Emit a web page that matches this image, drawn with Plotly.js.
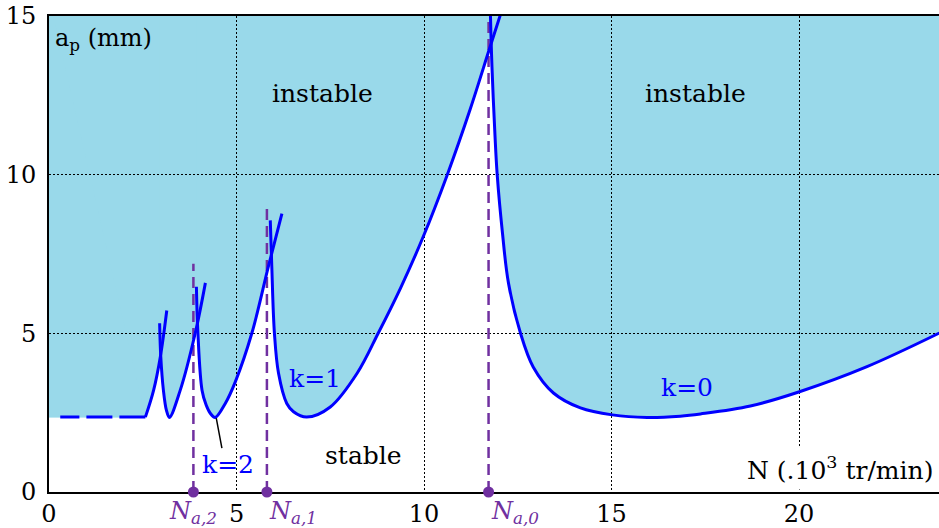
<!DOCTYPE html>
<html>
<head>
<meta charset="utf-8">
<script src="https://cdn.plot.ly/plotly-3.0.1.min.js"></script>
<style>html,body{margin:0;padding:0;background:#fff;}</style>
</head>
<body>
<div id="chart" style="width:939px;height:528px;"></div>
<script>
// ---- data (N in 10^3 tr/min, ap in mm) ----
const flatN  = [0.30, 2.57];
const flatAp = [2.36, 2.36];

const lobe4N  = [2.57, 2.79, 2.97, 3.14];
const lobe4Ap = [2.36, 3.21, 4.27, 5.72];

const lobe3N  = [2.95, 2.98, 3.05, 3.13, 3.21, 3.50, 3.90, 4.17];
const lobe3Ap = [5.32, 4.27, 3.21, 2.58, 2.35, 3.21, 5.01, 6.59];

const lobe2N  = [3.93, 3.97, 4.08, 4.19, 4.30, 4.43, 4.70, 4.97, 5.41, 5.85, 6.21];
const lobe2Ap = [6.47, 5.01, 3.21, 2.74, 2.48, 2.35, 2.79, 3.48, 5.01, 7.11, 8.77];

const lobe1N  = [5.90, 5.94, 6.01, 6.12, 6.34, 6.52, 6.87, 7.50, 8.22, 8.78, 9.37, 9.98, 10.62, 11.23, 11.74, 12.03];
const lobe1Ap = [8.56, 7.11, 5.01, 3.74, 2.79, 2.53, 2.36, 2.68, 3.75, 5.01, 6.42, 8.05, 10.00, 12.06, 13.95, 15.02];

const lobe0N  = [11.77, 11.81, 11.89, 11.95, 12.09, 12.25, 12.57, 12.91, 13.45, 14.17, 15.02, 15.95, 16.83, 17.37, 18.70, 20.01, 21.81, 23.74];
const lobe0Ap = [15.03, 13.42, 11.26, 10.00, 8.17, 6.59, 5.01, 3.94, 3.12, 2.65, 2.43, 2.35, 2.39, 2.46, 2.71, 3.16, 3.95, 5.01];

const naN    = [3.85, 5.81, 11.72];
const naTop  = [7.19, 9.11, 15.0];
const naBase = [0, 0, 0];
const naText = ['N<sub>a,2</sub>', 'N<sub>a,1</sub>', 'N<sub>a,0</sub>'];

const leaderN  = [4.46, 4.61];
const leaderAp = [2.33, 1.38];

const regionText = ['instable', 'instable', 'stable'];
const regionN    = [7.29, 17.25, 8.38];
const regionAp   = [12.56, 12.56, 1.16];

const lobeText    = ['k=0', 'k=1', 'k=2'];
const lobeLabelN  = [17.00, 7.10, 4.78];
const lobeLabelAp = [3.28, 3.59, 0.88];

const xTicks = [0, 5, 10, 15, 20];
const yTicks = [0, 5, 10, 15];

// ---- styles ----
const FILL = '#99D9EA', BLUE = '#0000FF', PURPLE = '#7030A0';
const FONT = 'DejaVu Serif';
const xRange = [0, 23.73], yRange = [0, 15], topY = 15.6;

const traces = [];
// unstable region fill (bottom subplot xy, drawn under grid of x2y2)
function addFill(xs, ys, leftX, shape) {
  traces.push({type:'scatter', x:[leftX, xs[xs.length-1]], y:[topY, topY], mode:'lines',
    line:{width:1, color:FILL}, xaxis:'x', yaxis:'y', hoverinfo:'skip', showlegend:false});
  traces.push({type:'scatter', x:xs, y:ys, mode:'lines',
    line:{width:1, color:FILL, shape:shape}, fill:'tonexty', fillcolor:FILL,
    xaxis:'x', yaxis:'y', hoverinfo:'skip', showlegend:false});
}
addFill([xRange[0], flatN[1]], flatAp, xRange[0], 'linear');
addFill(lobe4N, lobe4Ap, xRange[0], 'spline');
addFill(lobe3N, lobe3Ap, lobe3N[0], 'spline');
addFill(lobe2N, lobe2Ap, lobe2N[0], 'spline');
addFill(lobe1N, lobe1Ap, lobe1N[0], 'spline');
addFill(lobe0N, lobe0Ap, lobe0N[0], 'spline');

// purple dashed verticals
const px = [], py = [];
naN.forEach((n, i) => { px.push(n, n, null); py.push(naBase[i], naTop[i], null); });
traces.push({type:'scatter', x:px, y:py, mode:'lines', connectgaps:false,
  line:{color:PURPLE, width:2.5, dash:'11px,6px'}, xaxis:'x2', yaxis:'y2', hoverinfo:'skip', showlegend:false});

// dashed flat part (drawn right-to-left so the pattern starts at the lobe)
traces.push({type:'scatter', x:flatN.slice().reverse(), y:flatAp.slice().reverse(), mode:'lines',
  line:{color:BLUE, width:3, dash:'26px,7px'}, xaxis:'x2', yaxis:'y2', hoverinfo:'skip', showlegend:false});

[[lobe4N, lobe4Ap], [lobe3N, lobe3Ap], [lobe2N, lobe2Ap], [lobe1N, lobe1Ap], [lobe0N, lobe0Ap]].forEach(([xs, ys]) => {
  traces.push({type:'scatter', x:xs, y:ys, mode:'lines',
    line:{color:BLUE, width:3, shape:'spline'}, xaxis:'x2', yaxis:'y2', hoverinfo:'skip', showlegend:false});
});

// leader line for k=2
traces.push({type:'scatter', x:leaderN, y:leaderAp, mode:'lines',
  line:{color:'#000', width:1.5}, xaxis:'x2', yaxis:'y2', hoverinfo:'skip', showlegend:false});

// purple dots on the axis
traces.push({type:'scatter', x:naN, y:naBase, mode:'markers', cliponaxis:false,
  marker:{color:PURPLE, size:11}, xaxis:'x2', yaxis:'y2', hoverinfo:'skip', showlegend:false});

const annotations = [];
regionText.forEach((t, i) => annotations.push({xref:'x2', yref:'y2', x:regionN[i], y:regionAp[i], text:t,
  showarrow:false, font:{family:FONT, size:25, color:'#000'}}));
lobeText.forEach((t, i) => annotations.push({xref:'x2', yref:'y2', x:lobeLabelN[i], y:lobeLabelAp[i], text:t,
  showarrow:false, font:{family:FONT, size:25, color:BLUE}}));
const naAnchor = ['center', 'left', 'left'];
naText.forEach((t, i) => annotations.push({xref:'x2', yref:'y2', x:naN[i], y:0, text:'<i>' + t + '</i>',
  showarrow:false, xanchor:naAnchor[i], yanchor:'middle', yshift:-20, font:{family:FONT, size:24, color:PURPLE}}));
annotations.push({xref:'paper', yref:'paper', x:0, y:1, xanchor:'left', yanchor:'top', xshift:4, yshift:-6,
  text:'a<sub>p</sub> (mm)', showarrow:false, font:{family:FONT, size:24, color:'#000'}});
annotations.push({xref:'paper', yref:'paper', x:1, y:0, xanchor:'right', yanchor:'bottom', xshift:-1, yshift:2,
  text:'N (.10<sup>3</sup> tr/min)', showarrow:false, bgcolor:'#fff', borderpad:4,
  font:{family:FONT, size:25, color:'#000'}});

const axisCommon = {
  showgrid:true, gridcolor:'#000', gridwidth:1, griddash:'2px,2px', zeroline:false,
  showline:true, linecolor:'#000', linewidth:2, ticks:'', layer:'below traces',
  tickfont:{family:FONT, size:24, color:'#000'}, fixedrange:true
};

const layout = {
  width:939, height:528,
  margin:{l:49, r:0, t:16, b:36, pad:0},
  paper_bgcolor:'#fff', plot_bgcolor:'rgba(0,0,0,0)',
  showlegend:false,
  xaxis:{range:xRange, visible:false, fixedrange:true, domain:[0,1]},
  yaxis:{range:yRange, visible:false, fixedrange:true, domain:[0,1]},
  xaxis2:Object.assign({}, axisCommon, {range:xRange, anchor:'y2', domain:[0,1],
    tickmode:'array', tickvals:xTicks, ticktext:xTicks.map(String), mirror:true, ticklabelstandoff:-1}),
  yaxis2:Object.assign({}, axisCommon, {range:yRange, anchor:'x2', domain:[0,1],
    tickmode:'array', tickvals:yTicks, ticktext:yTicks.map(String), ticklabelstandoff:6}),
  annotations:annotations
};

Plotly.newPlot('chart', traces, layout, {staticPlot:true, displayModeBar:false});
</script>
</body>
</html>
